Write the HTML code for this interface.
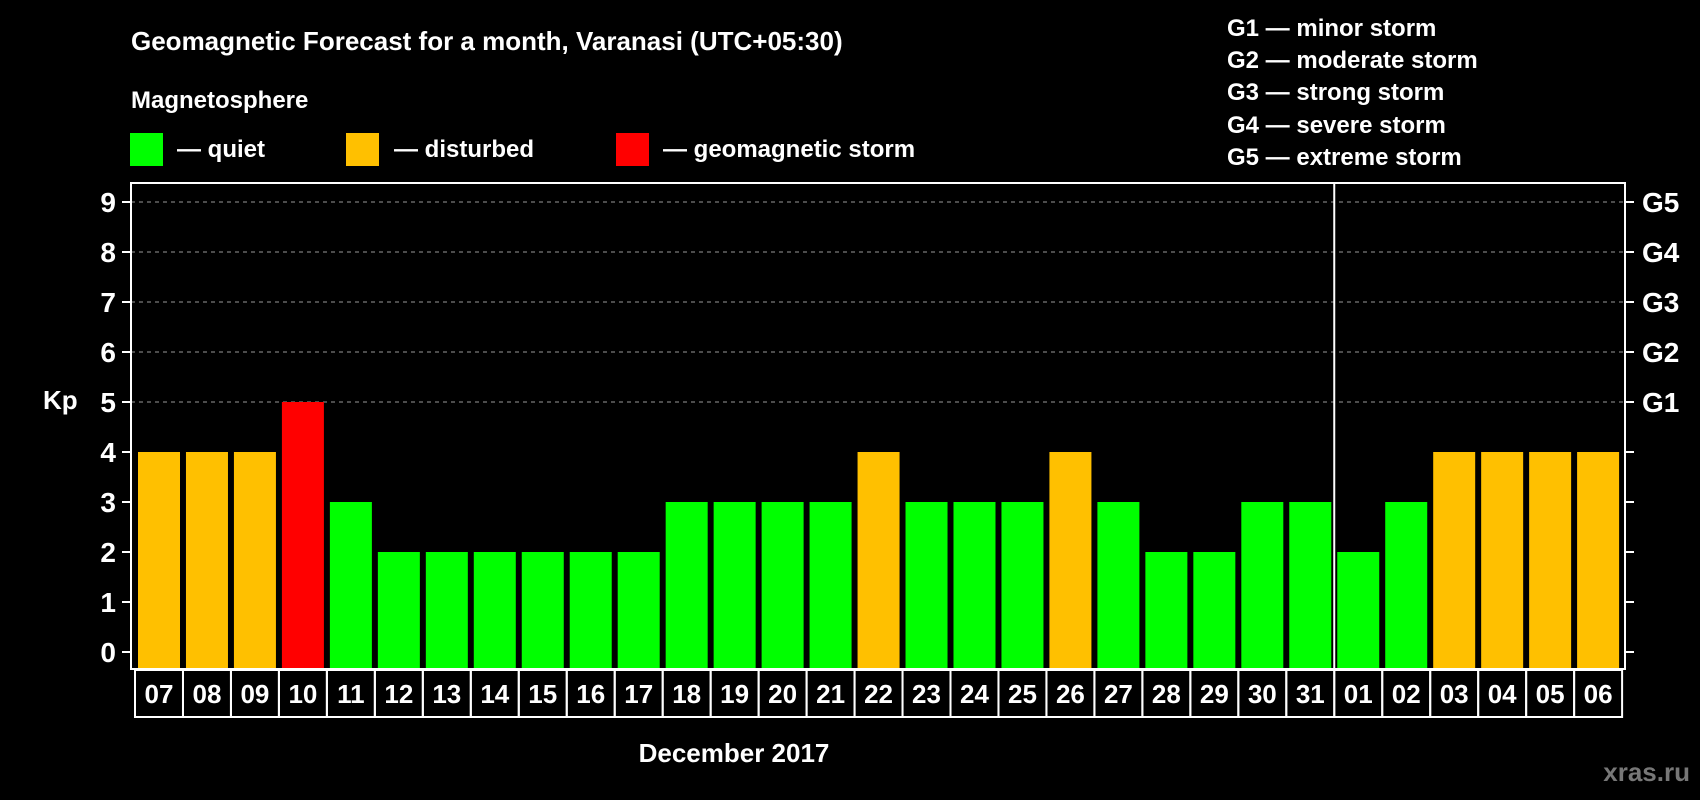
<!DOCTYPE html>
<html><head><meta charset="utf-8"><style>
body{margin:0;background:#000;width:1700px;height:800px;overflow:hidden}
svg{display:block}
text{font-family:"Liberation Sans",Arial,sans-serif;font-weight:bold;fill:#fff}
</style></head><body>
<svg width="1700" height="800">
<text x="131" y="50" font-size="26">Geomagnetic Forecast for a month, Varanasi (UTC+05:30)</text>
<text x="131" y="108" font-size="24">Magnetosphere</text>
<g><rect x="130" y="133" width="33" height="33" fill="#00ff00"/><text x="177" y="157" font-size="24">— quiet</text></g>
<g><rect x="346" y="133" width="33" height="33" fill="#ffc000"/><text x="394" y="157" font-size="24">— disturbed</text></g>
<g><rect x="616" y="133" width="33" height="33" fill="#ff0000"/><text x="663" y="157" font-size="24">— geomagnetic storm</text></g>
<g font-size="24">
<text x="1227" y="36">G1 — minor storm</text>
<text x="1227" y="68">G2 — moderate storm</text>
<text x="1227" y="100">G3 — strong storm</text>
<text x="1227" y="133">G4 — severe storm</text>
<text x="1227" y="165">G5 — extreme storm</text>
</g>
<g id="plot"></g>
<text x="43" y="409" font-size="26">Kp</text>
<text x="734" y="762" font-size="26" text-anchor="middle">December 2017</text>
<text x="1690" y="781" font-size="26" text-anchor="end" style="fill:#777">xras.ru</text>
</svg>
<script>
const days=["07","08","09","10","11","12","13","14","15","16","17","18","19","20","21","22","23","24","25","26","27","28","29","30","31","01","02","03","04","05","06"];
const kp=[4,4,4,5,3,2,2,2,2,2,2,3,3,3,3,4,3,3,3,4,3,2,2,3,3,2,3,4,4,4,4];
const yTicks=[0,1,2,3,4,5,6,7,8,9];
const gLabels=["G1","G2","G3","G4","G5"];
const ns="http://www.w3.org/2000/svg";
const g=document.getElementById('plot');
const L=131,R=1625,T=183,B=669,x0=138,step=47.97,bw=42;
const y=v=>652-v*50;
const x=i=>x0+i*step;
function mk(t,a,p){const e=document.createElementNS(ns,t);for(const k in a)e.setAttribute(k,a[k]);(p||g).appendChild(e);return e;}
yTicks.forEach(v=>{
  if(v>=5){const l=mk('line',{x1:L,x2:R,y1:y(v),y2:y(v),stroke:'#999','stroke-dasharray':'4,4','stroke-width':1});
  
  }
  mk('line',{x1:L-9,x2:L,y1:y(v),y2:y(v),stroke:'#fff','stroke-width':2});
  mk('line',{x1:R,x2:R+9,y1:y(v),y2:y(v),stroke:'#fff','stroke-width':2});
  const t=mk('text',{x:116,y:y(v)+10,'font-size':28,'text-anchor':'end'});t.textContent=v;
  
  
});
gLabels.forEach((s,i)=>{const t=mk('text',{x:1642,y:y(5+i)+10,'font-size':28});t.textContent=s;
  
  });
kp.forEach((v,i)=>{
  const c=v>=5?'#ff0000':v>=4?'#ffc000':'#00ff00';
  const r=mk('rect',{x:x(i),y:y(v),width:bw,height:B-y(v),fill:c});
  
  
  const cx=x(i)+bw/2;
  const c2=mk('rect',{x:cx-24,y:670,width:48,height:47,fill:'none',stroke:'#fff','stroke-width':2});
  
  
  const t=mk('text',{x:cx,y:703,'font-size':26,'text-anchor':'middle'});t.textContent=days[i];
  
  
});
const f=mk('rect',{x:L,y:T,width:R-L,height:B-T,fill:'none',stroke:'#fff','stroke-width':2});


const si=days.indexOf("01");
const sep=mk('line',{x1:x(si)-3,x2:x(si)-3,y1:T,y2:B,stroke:'#fff','stroke-width':2});


</script>
</body></html>
